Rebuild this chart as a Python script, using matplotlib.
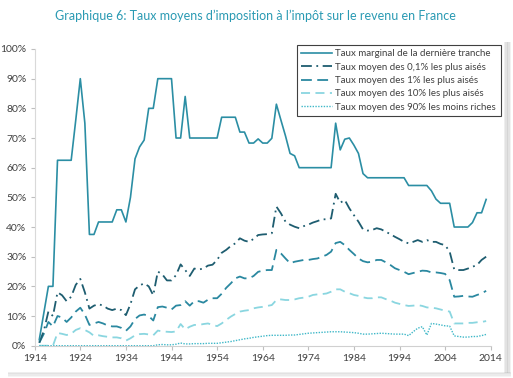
import matplotlib
matplotlib.use("Agg")
import matplotlib.pyplot as plt
from matplotlib.patches import Rectangle
import numpy as np

plt.rcParams['font.family'] = ['Lato', 'DejaVu Sans']

years = list(range(1915, 2014))

marginal = [2, 11, 20, 20, 62.5, 62.5, 62.5, 62.5, 76, 90,
            75, 37.5, 37.5, 41.7, 41.7, 41.7, 41.7, 45.8, 45.8, 41.7,
            50, 63, 67, 69.3, 80, 80, 90, 90, 90, 90,
            70, 70, 84, 70, 70, 70, 70, 70, 70, 70,
            77, 77, 77, 77, 72, 72, 68.3, 68.3, 69.7, 68.3,
            68.3, 69.9, 81.4, 76, 70.7, 64.8, 64, 60, 60, 60,
            60, 60, 60, 60, 60, 75, 66, 69.6, 70, 67.6,
            64.8, 58, 56.6, 56.6, 56.6, 56.6, 56.6, 56.6, 56.6, 56.6,
            56.6, 54, 54, 54, 54, 54, 52.2, 49.4, 48, 48,
            48, 40, 40, 40, 40, 41.5, 44.8, 44.8, 49.3]

top01 = [1, 5, 11.5, 10, 18, 17, 15, 16.5, 20.5, 22.5,
         18, 12.5, 13.5, 14, 13.5, 12.5, 12, 12.5, 12, 10.3,
         14, 19, 20.3, 21, 20, 17, 25, 24, 22, 22,
         23.8, 27.4, 25.5, 23.5, 26, 25.7, 26, 27, 27.3, 28.9,
         31.3, 32.3, 33.6, 34.5, 36.2, 35.4, 35, 36, 37.3, 37.5,
         37.6, 37.9, 46.9, 44.6, 41.8, 40.8, 40.1, 39.6, 40.3, 40.8,
         41.5, 42, 42.6, 42.6, 42.9, 51.2, 48.2, 49.1, 46.3, 44,
         41.8, 39.2, 38.8, 39, 39.6, 39.2, 38.4, 37.6, 36.7, 35.9,
         35, 34.5, 35, 35.6, 35, 35.6, 35, 35, 34.3, 33.9,
         31.7, 25.7, 25.5, 25.5, 26, 26.6, 27.2, 28.9, 30]

top1 = [1, 4, 8, 6.5, 10, 9.5, 8, 9.5, 11.5, 12.8,
        10.5, 7, 7.5, 8, 7.5, 6.8, 6.5, 6.5, 6, 5,
        6.5, 9, 10.2, 10.5, 10, 8.5, 13, 13.2, 12.8, 12.2,
        13.5, 13.7, 15, 13.5, 15, 15, 14.5, 15.5, 16, 16,
        17.5, 19.5, 21, 22.7, 23.3, 22.7, 22.7, 23.5, 24.9, 25.3,
        25.5, 25.5, 32.3, 31.1, 29.4, 27.8, 28.3, 28.6, 28.9, 28.9,
        29.2, 29.4, 30, 30.6, 31.7, 34.6, 35, 33.9, 32.3, 30.9,
        29.4, 28.5, 28.1, 28.3, 28.9, 28.9, 28.1, 27.2, 26.1, 25.5,
        24.9, 24.1, 24.5, 24.9, 25.3, 25.2, 24.7, 24.7, 24.5, 24.2,
        22.1, 16.5, 16.6, 16.8, 16.6, 16.5, 17.1, 17.6, 18.5]

top10 = [0, 0, 0, 0, 4.3, 4, 3.6, 4, 5.3, 5.9,
         5.3, 4.5, 3.3, 3.5, 3.2, 3, 2.8, 2.8, 2.5, 1.7,
         2.5, 3.5, 3.9, 4, 3.8, 3.5, 5.1, 4.8, 4.7, 4.6,
         4.8, 7.3, 5.5, 6.4, 7, 7, 7.3, 7.5, 7, 6.6,
         7.5, 8.7, 9.8, 10.7, 11.5, 11.8, 12, 12.6, 12.9, 13.1,
         13.4, 13.7, 15.4, 15.6, 15.4, 15.4, 15.6, 16, 16.2, 16.5,
         17.1, 17.3, 17.4, 17.6, 18.2, 19, 19, 18.2, 17.7, 17.1,
         16.8, 16.3, 16, 16, 16.3, 16.3, 15.7, 15.2, 14.5, 14.1,
         13.7, 13.4, 13.5, 13.7, 13.4, 12.9, 12.8, 12.6, 12.2, 11.8,
         11.5, 7.5, 7.5, 7.5, 7.7, 7.7, 7.9, 8, 8.3]

bottom90 = [0, 0, 0, 0, 0, 0, 0, 0, 0, 0,
            0, 0, 0, 0, 0, 0, 0, 0, 0, 0,
            0, 0, 0, 0, 0, 0, 0.3, 0.4, 0.3, 0.3,
            0.5, 0.9, 0.6, 0.6, 0.7, 0.7, 0.7, 0.8, 0.8, 0.8,
            1.0, 1.2, 1.4, 1.7, 2.0, 2.3, 2.5, 2.8, 3.0, 3.2,
            3.4, 3.5, 3.5, 3.5, 3.5, 3.6, 3.6, 3.8, 4.0, 4.2,
            4.3, 4.4, 4.5, 4.6, 4.7, 4.7, 4.7, 4.6, 4.5, 4.4,
            4.2, 3.9, 3.9, 4.0, 4.1, 4.2, 4.1, 4.0, 3.9, 3.9,
            3.9, 3.4, 4.7, 5.9, 6.4, 3.6, 7.5, 7.3, 7.0, 6.7,
            6.6, 3.3, 3.1, 2.9, 2.9, 3.1, 3.1, 3.4, 3.8]

labels = ["Taux marginal de la dernière tranche",
          "Taux moyen des 0,1% les plus aisés",
          "Taux moyen des 1% les plus aisés",
          "Taux moyen des 10% les plus aisés",
          "Taux moyen des 90% les moins riches"]

xticks = list(range(1914, 2015, 10))
yticks = list(range(0, 101, 10))

title = "Graphique 6: Taux moyens d’imposition à l’impôt sur le revenu en France"

W, H = 513, 378
fig = plt.figure(figsize=(W / 100, H / 100), dpi=100)
fig.patch.set_facecolor('white')

# drop shadow of panel
for i, a in enumerate([0.10, 0.18, 0.26, 0.18, 0.08]):
    fig.patches.append(Rectangle(((504 + i * 1.4) / W, 0.012), 1.4 / W, 1 - 0.012 - 42 / H,
                                 transform=fig.transFigure, facecolor='#606060',
                                 alpha=a, edgecolor='none'))
for i, a in enumerate([0.10, 0.18, 0.12, 0.06]):
    fig.patches.append(Rectangle((8 / W, (5 - i * 1.3) / H), 503 / W, 1.3 / H,
                                 transform=fig.transFigure, facecolor='#606060',
                                 alpha=a, edgecolor='none'))

ax = fig.add_axes([34.7 / W, 32.3 / H, (490.7 - 34.7) / W, (345.7 - 49) / H])

c_marg = '#2b8ea4'
c01 = '#1e5d70'
c1 = '#2a88a0'
c10 = '#8ad6e0'
c90 = '#3fb8c8'

ax.plot(years, top10, color=c10, lw=1.3, dashes=(5, 3), label=labels[3], zorder=2)
ax.plot(years, bottom90, color=c90, lw=1.0, dashes=(1, 1), label=labels[4], zorder=2)
ax.plot(years, top1, color=c1, lw=1.3, dashes=(6, 3), label=labels[2], zorder=3)
ax.plot(years, top01, color=c01, lw=1.3, dashes=(6, 2.5, 1, 2.5), label=labels[1], zorder=3)
ax.plot(years, marginal, color=c_marg, lw=1.2, label=labels[0], zorder=4)

ax.set_xlim(1914, 2014)
ax.set_ylim(0, 100)
ax.set_xticks(xticks)
ax.set_xticklabels([str(v) for v in xticks])
ax.set_yticks(yticks)
ax.set_yticklabels([f"{v}%" for v in yticks])
for s in ['top', 'right']:
    ax.spines[s].set_visible(False)
ax.spines['left'].set_color('#d9d9d9')
ax.spines['bottom'].set_color('#d0d0d0')
ax.tick_params(axis='both', colors='#bfbfbf', labelcolor='#404040', labelsize=7.5, length=3, width=0.8)
ax.tick_params(axis='x', pad=3)
ax.tick_params(axis='y', pad=3)

handles, labs = ax.get_legend_handles_labels()
order = [labs.index(l) for l in labels]
leg = fig.legend([handles[i] for i in order], [labs[i] for i in order],
                 loc='upper left', bbox_to_anchor=(297 / W, 1 - 45 / H),
                 bbox_transform=fig.transFigure, fontsize=7, frameon=True,
                 fancybox=False, edgecolor='#404040', framealpha=1,
                 handlelength=3.2, handletextpad=0.3, labelspacing=0.45,
                 borderpad=0.45, borderaxespad=0)
leg.get_frame().set_linewidth(0.8)
for t in leg.get_texts():
    t.set_color('#404040')

fig.text(255 / W, 1 - 16 / H, title, ha='center', va='center', fontsize=9, color='#2a9ab3')

fig.savefig('out.png', dpi=100)
